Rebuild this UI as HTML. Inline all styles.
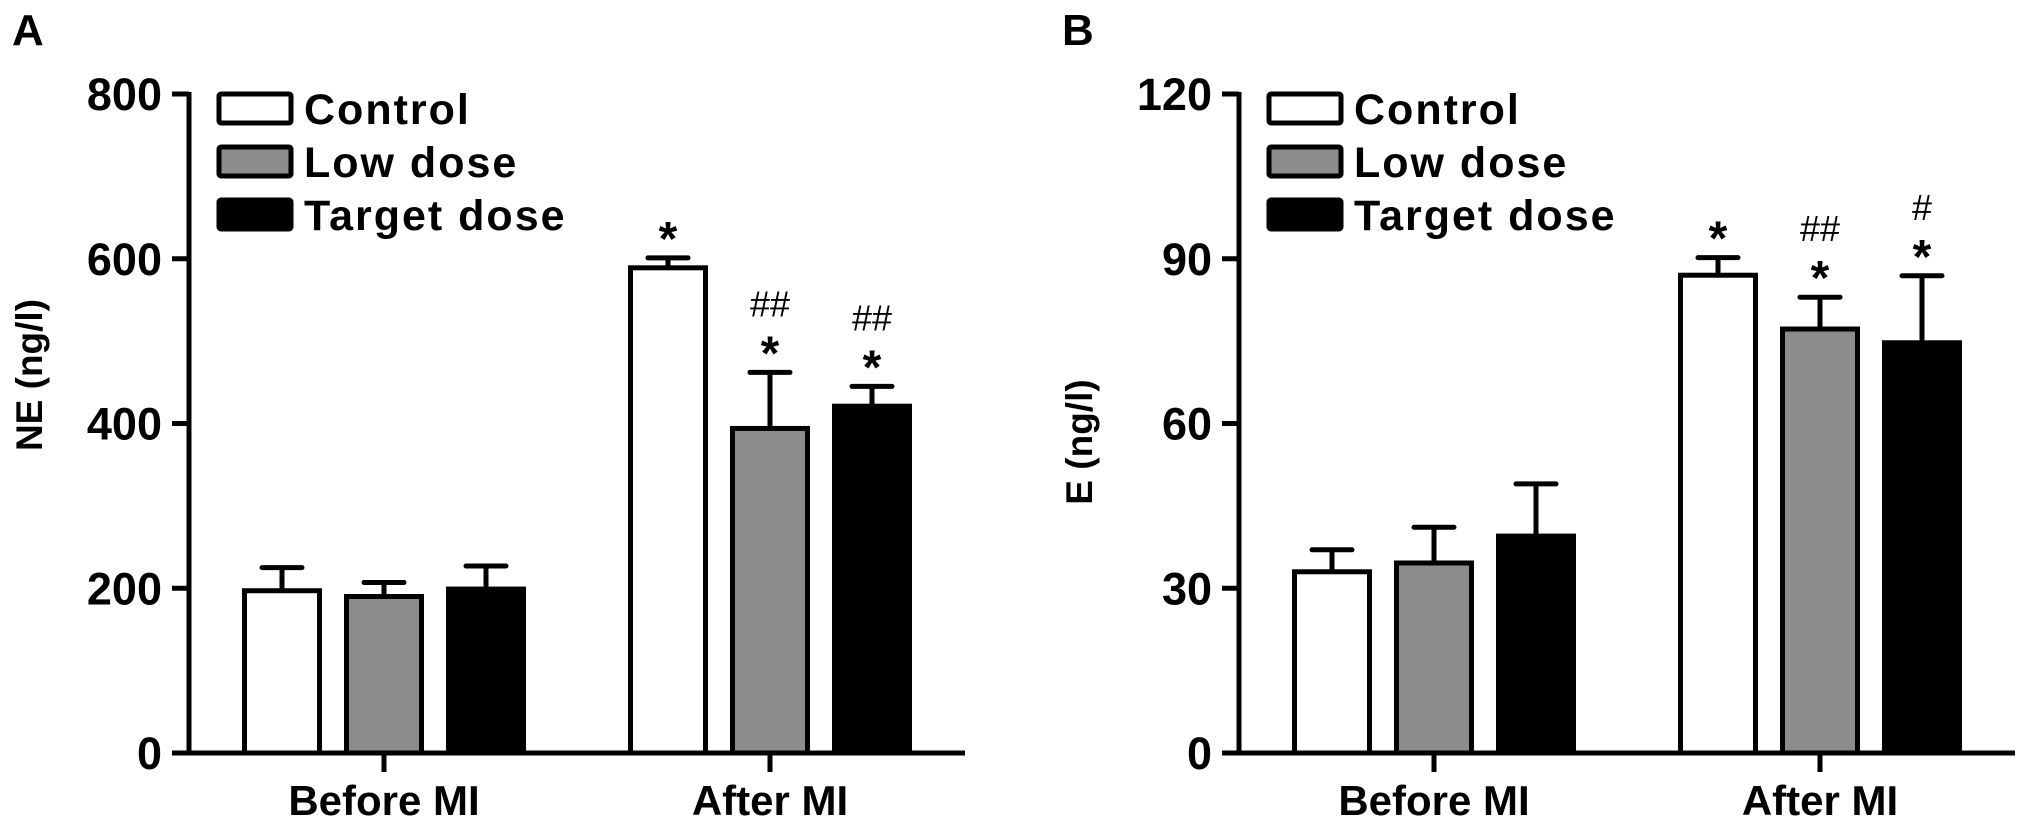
<!DOCTYPE html>
<html><head><meta charset="utf-8"><style>
html,body{margin:0;padding:0;background:#fff;}
svg{display:block;font-family:"Liberation Sans",Arial,sans-serif;}
</style></head><body>
<svg id="chart" width="2031" height="829" viewBox="0 0 2031 829" xmlns="http://www.w3.org/2000/svg"></svg>
<script>
const categories = ["Before MI", "After MI"];
const seriesNames = ["Control", "Low dose", "Target dose"];
const neMeans = [[197, 190, 199], [589, 394, 421]];
const neErrs = [[225, 207, 227], [601, 462, 445]];
const eMeans = [[33.0, 34.6, 39.5], [87.0, 77.2, 74.7]];
const eErrs = [[37.0, 41.1, 49.0], [90.2, 83.0, 86.9]];
const neTicks = [0, 200, 400, 600, 800];
const eTicks = [0, 30, 60, 90, 120];
const neMarks = [["", "", ""], ["*", "##|*", "##|*"]];
const eMarks = [["", "", ""], ["*", "##|*", "#|*"]];

const NS = "http://www.w3.org/2000/svg";
const svg = document.getElementById("chart");
const fills = ["#ffffff", "#8c8c8c", "#000000"];
function mk(tag, attrs, parent) {
  const e = document.createElementNS(NS, tag);
  for (const k in attrs) e.setAttribute(k, attrs[k]);
  (parent || svg).appendChild(e);
  return e;
}
function panel(ox, letter, title, ticks, means, errs, marks, key) {
  const g = mk("g", {});
  
  
  const y0 = 753, yTop = 94, ymax = ticks[ticks.length - 1];
  const yS = v => y0 - (v / ymax) * (y0 - yTop);
  const axX = ox;
  const lt = mk("text", {x: ox - 177, y: 45, "font-size": 44, "font-weight": "bold"}, g);
  lt.textContent = letter;
  
  
  const ya = mk("line", {x1: axX, y1: yTop - 2, x2: axX, y2: y0 + 2, stroke: "#000", "stroke-width": 5}, g);
  
  
  ticks.forEach(t => {
    const y = yS(t);
    const tl = mk("line", {x1: axX - 17, y1: y, x2: axX, y2: y, stroke: "#000", "stroke-width": 5}, g);
    
    
    const tx = mk("text", {x: axX - 27, y: y + 16, "font-size": 45, "font-weight": "bold", "text-anchor": "end"}, g);
    tx.textContent = t;
    
    
  });
  const yt = mk("text", {x: 0, y: 0, "font-size": 37, "font-weight": "bold", "text-anchor": "middle", transform: "translate(" + (ox - 147) + "," + (key === "ne" ? 375 : 442) + ") rotate(-90)"}, g);
  yt.textContent = title;
  
  
  const xa = mk("line", {x1: axX - 17, y1: y0, x2: axX + 776, y2: y0, stroke: "#000", "stroke-width": 5}, g);
  
  
  categories.forEach((c, ci) => {
    const cx = axX + 195 + ci * 386;
    const ct = mk("line", {x1: cx, y1: y0, x2: cx, y2: y0 + 19, stroke: "#000", "stroke-width": 5}, g);
    
    
    const cl = mk("text", {x: cx, y: 815, "font-size": 42, "font-weight": "bold", "text-anchor": "middle"}, g);
    cl.textContent = c;
    
    
    means[ci].forEach((m, si) => {
      const bx = cx + (si - 1) * 102;
      const top = yS(m), et = yS(errs[ci][si]);
      const eb = mk("line", {x1: bx, y1: top, x2: bx, y2: et, stroke: "#000", "stroke-width": 5}, g);
      
      
      const cap = mk("line", {x1: bx - 20, y1: et, x2: bx + 20, y2: et, stroke: "#000", "stroke-width": 5, "stroke-linecap": "round"}, g);
      
      
      const r = mk("rect", {x: bx - 37.5, y: top, width: 75, height: y0 - top, fill: fills[si], stroke: "#000", "stroke-width": 5}, g);
      
      
      const mark = marks[ci][si];
      if (mark) {
        const parts = mark.split("|");
        let y = et - 30;
        for (let p = parts.length - 1; p >= 0; p--) {
          const s = parts[p];
          if (s === "*") {
            const a = mk("text", {x: bx, y: y + 27, "font-size": 48, "font-weight": "bold", "text-anchor": "middle"}, g);
            a.textContent = "*";
            
            
            y -= 40;
          } else {
            const h = mk("text", {x: bx, y: y + 14, "font-size": 36, "text-anchor": "middle"}, g);
            h.textContent = s;
            
            
            y -= 40;
          }
        }
      }
    });
  });
  seriesNames.forEach((n, si) => {
    const ly = 94 + si * 53;
    const lg = mk("g", {}, g);
    
    
    mk("rect", {x: axX + 30, y: ly, width: 72, height: 29, fill: fills[si], stroke: "#000", "stroke-width": 5, rx: 2}, lg);
    const t = mk("text", {x: axX + 115, y: ly + 30, "font-size": 43, "font-weight": "bold", "letter-spacing": 2}, lg);
    t.textContent = n;
  });
}
panel(189, "A", "NE (ng/l)", neTicks, neMeans, neErrs, neMarks, "ne");
panel(1239, "B", "E (ng/l)", eTicks, eMeans, eErrs, eMarks, "e");
</script>
</body></html>
